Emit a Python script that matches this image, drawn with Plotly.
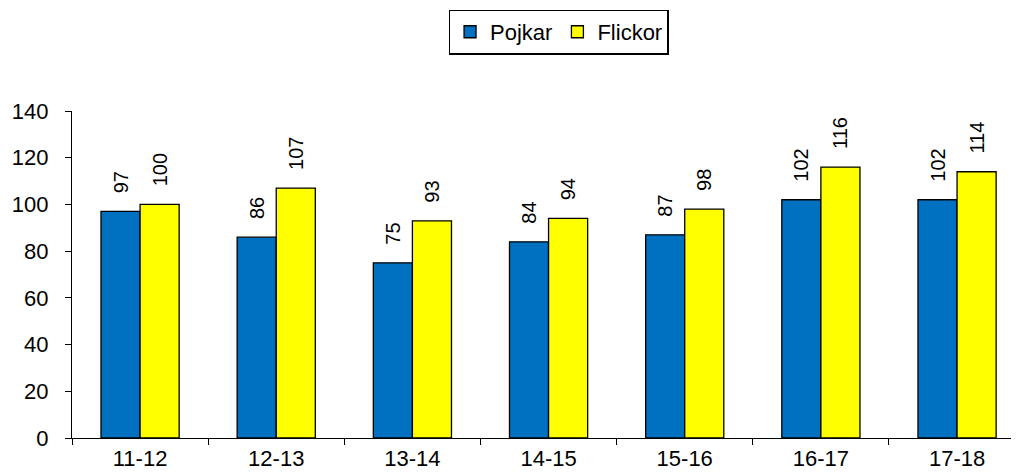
import plotly.graph_objects as go

categories = ["11-12", "12-13", "13-14", "14-15", "15-16", "16-17", "17-18"]
pojkar = [97, 86, 75, 84, 87, 102, 102]
flickor = [100, 107, 93, 94, 98, 116, 114]
y_ticks = [0, 20, 40, 60, 80, 100, 120, 140]

FONT = "Liberation Sans, Arial, sans-serif"
pad = "\u00a0\u00a0\u2009"

fig = go.Figure()
for name, vals, color in [("Pojkar", pojkar, "#0070C0"), ("Flickor", flickor, "#FFFF00")]:
    fig.add_trace(go.Bar(
        name=name, x=categories, y=vals,
        marker=dict(color=color, line=dict(color="black", width=1.3)),
        text=[pad + str(v) for v in vals],
        textposition="outside", textangle=-90,
        textfont=dict(family=FONT, size=20, color="black"),
        cliponaxis=False, constraintext="none",
    ))

# page body has an 8px margin, so the figure is shifted by 8px; compensate
fig.update_layout(
    width=1011, height=465,
    margin=dict(l=64, r=0, t=103, b=35, autoexpand=False),
    paper_bgcolor="white", plot_bgcolor="white",
    barmode="group", bargap=0.426, bargroupgap=0,
    font=dict(family=FONT, size=22, color="black"),
    showlegend=True,
    legend=dict(orientation="h", x=0.514, xanchor="center", y=1.31, yanchor="top",
                bordercolor="black", borderwidth=1.3, font=dict(size=22),
                itemwidth=30, tracegroupgap=0),
    xaxis=dict(type="category", range=[-0.5, 6.455], showline=True, linecolor="black", linewidth=1.3,
               ticks="outside", tickson="boundaries", ticklen=6, tickcolor="black",
               showgrid=False, tickfont=dict(size=22), ticklabelstandoff=0),
    yaxis=dict(range=[0, 140], tickvals=y_ticks, showline=True, linecolor="black", linewidth=1.3,
               ticks="outside", ticklen=6, tickcolor="black", showgrid=False, zeroline=False,
               tickfont=dict(size=22), ticklabelstandoff=12),
)

fig.write_html("out.html")
